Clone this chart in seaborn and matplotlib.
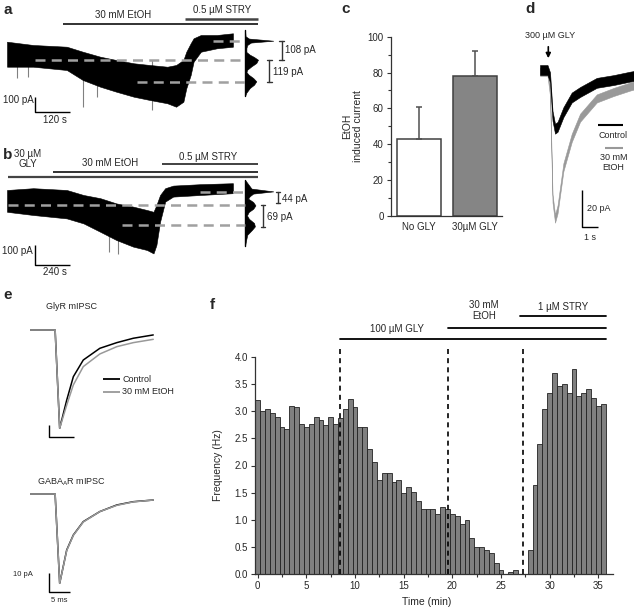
import numpy as np
import pandas as pd
import matplotlib
matplotlib.use('Agg')
import matplotlib.pyplot as plt
from matplotlib.ticker import MultipleLocator, FormatStrFormatter
import seaborn as sns

# ---- a: holding current, 30 mM EtOH then 0.5 uM STRY (envelope of the trace) ----
a_time = [0, 90, 205, 260, 320, 375, 435, 490, 550, 580, 605, 615, 630, 640, 665, 720, 775]  # s
a_upper = [128, 105, 93, 58, 23, 0, -23, -35, -47, -35, 0, 58, 117, 152, 175, 175, 187]     # pA
a_lower = [-47, -47, -70, -140, -187, -222, -257, -280, -303, -327, -292, -198, -105, -12, 58, 82, 93]
a_spike_time = [35, 73, 262, 308, 497]
a_spike_amp = [-128, -117, -327, -257, -350]
a_levels = [135, 0, -156]  # STRY, control, EtOH
a_hist_level = [212, 166, 150, 135, 122, 105, 84, 56, 37, 21, 2, -21, -44, -68, -84,
                -103, -126, -149, -173, -196, -231, -254]
a_hist_count = [0, 0.02, 0.14, 1.0, 0.21, 0.08, 0.05, 0.05, 0.17, 0.32, 0.46, 0.4, 0.23,
                0.08, 0.05, 0.13, 0.29, 0.4, 0.32, 0.17, 0.04, 0]

# ---- b: same with 30 uM GLY in the bath ----
b_time = [0, 180, 410, 525, 640, 750, 865, 960, 1005, 1025, 1050, 1085, 1140, 1325, 1550]
b_upper = [75, 84, 75, 50, 34, 8, -8, -25, -34, 0, 50, 84, 97, 104, 109]
b_lower = [-34, -50, -67, -92, -134, -175, -208, -225, -242, -200, -84, 17, 42, 50, 59]
b_spike_time = [700, 760]
b_spike_amp = [-235, -245]
b_levels = [67, 0, -100]
b_hist_level = [126, 82, 68, 57, 44, 32, 15, -2, -19, -35, -52, -69, -90, -107, -124,
                -149, -182, -207]
b_hist_count = [0, 0.23, 1.0, 0.29, 0.17, 0.11, 0.29, 0.37, 0.29, 0.13, 0.07, 0.14, 0.32,
                0.35, 0.25, 0.08, 0.03, 0]

# ---- c: EtOH induced current ----
c_groups = ['No GLY', '30µM GLY']
c_mean = [43, 78]
c_sem = [18, 14]

# ---- d: 300 uM GLY puff ----
d_time = [0, 0.45, 0.6, 0.75, 0.9, 1.05, 1.4, 1.9, 2.4, 3.4, 4.4, 5.4, 5.6]
d_control = [0, 0, -4, -25, -32, -31, -23, -15, -12, -7, -5.5, -3.6, -3.3]
d_etoh = [-1, -1, -12, -70, -81, -76, -53, -37, -26, -15.5, -12, -9, -8.5]

# ---- e: averaged mIPSCs ----
e_time = [0, 5.9, 7.0, 8.7, 10.3, 12.7, 16.7, 20.8, 24.8, 29.6]  # ms
gly_control = [0, 0, -53.7, -38.3, -25.5, -16.4, -10, -6.9, -4.5, -2.7]
gly_etoh = [0, 0, -53.7, -41, -30, -20, -13.1, -9.1, -6.9, -5.1]
gaba_control = [0, 0, -48.8, -30.6, -22.4, -15.1, -9.6, -6.0, -4.2, -3.3]
gaba_etoh = [0, 0, -48.8, -30.9, -22.6, -15.3, -9.6, -6.2, -4.3, -3.3]

# ---- f: mIPSC frequency in 30 s bins ----
f_time = np.arange(0, 36, 0.5)
f_freq = [3.2, 3.0, 3.04, 2.97, 2.9, 2.7, 2.67, 3.1, 3.07, 2.77,
          2.7, 2.77, 2.9, 2.83, 2.74, 2.9, 2.77, 2.87, 3.04, 3.23,
          3.07, 2.7, 2.7, 2.3, 2.07, 1.73, 1.87, 1.87, 1.7, 1.73,
          1.5, 1.6, 1.51, 1.34, 1.2, 1.2, 1.2, 1.1, 1.23, 1.2,
          1.1, 1.07, 0.93, 1.0, 0.67, 0.5, 0.5, 0.44, 0.4, 0.2,
          0.07, 0, 0.04, 0.07, 0, 0, 0.44, 1.64, 2.4, 3.04,
          3.34, 3.7, 3.47, 3.5, 3.34, 3.77, 3.27, 3.34, 3.4, 3.24, 3.1, 3.13]
f_events = [8.5, 19.6, 27.3]
f_treat_start = [8.5, 19.6, 27.0]
f_treat_y = [4.33, 4.53, 4.75]

sns.set_style('ticks')
plt.rcParams['font.family'] = ['Liberation Sans', 'DejaVu Sans']
plt.rcParams['mathtext.default'] = 'regular'
plt.rcParams['font.size'] = 7

W, H = 634, 615
fig = plt.figure(figsize=(W / 100, H / 100), dpi=100)
DARK = '#333333'
LGRAY = '#a0a0a0'


def box_axes(x0, y0, x1, y1):
    return fig.add_axes([x0 / W, 1 - y1 / H, (x1 - x0) / W, (y1 - y0) / H])


def trace_axes(box, origin, scale):
    # axes whose data units line up with the reference pixels
    ax = box_axes(*box)
    x0, y0, x1, y1 = box
    ox, oy = origin
    sx, sy = scale
    ax.set_xlim((x0 - ox) * sx, (x1 - ox) * sx)
    ax.set_ylim((oy - y1) * sy, (oy - y0) * sy)
    ax.axis('off')
    return ax, (lambda px, py: ((px - ox) * sx, (oy - py) * sy))


def bracket(ax, x, y0, y1, cap):
    ax.plot([x, x], [y0, y1], color=DARK, lw=1)
    ax.plot([x - cap, x + cap], [y0, y0], color=DARK, lw=1)
    ax.plot([x - cap, x + cap], [y1, y1], color=DARK, lw=1)


def scalebar(ax, x, y, dx, dy):
    ax.plot([x, x, x + dx], [y + dy, y, y], color='black', lw=1, solid_capstyle='butt')


def level_panel(ax, to, time, lower, upper, spk_t, spk_a, levels, starts,
                hist_level, hist_count, hist_px, peak_px, xs):
    ax.vlines(spk_t, spk_a, 0, color='#808080', lw=0.8, zorder=1)
    ax.fill_between(time, lower, upper, color='black', lw=0.4, zorder=2)
    th = to(hist_px, 0)[0]
    for lev, px0 in zip(levels, starts):
        ax.plot([to(px0, 0)[0], th], [lev, lev], color=LGRAY, lw=1.8,
                dashes=(4, 2.5), zorder=3)
    ax.fill_betweenx(hist_level, th, th + np.array(hist_count) * peak_px * xs,
                     color='black', lw=0.4)
    ax.plot([th, th], [min(hist_level), max(hist_level)], color='black', lw=1)


# ---------------- panel a ----------------
ax_a, to_a = trace_axes((0, 0, 320, 130), (7, 60), (3.43, 7.0))
level_panel(ax_a, to_a, a_time, a_lower, a_upper, a_spike_time, a_spike_amp,
            a_levels, [213, 35, 136.7], a_hist_level, a_hist_count, 245, 28.3, 3.43)
bracket(ax_a, to_a(281.7, 0)[0], a_levels[0], a_levels[1], 8)
bracket(ax_a, to_a(269.3, 0)[0], a_levels[1], a_levels[2], 8)
sx, sy = to_a(35, 111.7)
scalebar(ax_a, sx, sy, 120, 100)

# ---------------- panel b ----------------
ax_b, to_b = trace_axes((0, 140, 320, 285), (7, 205), (6.86, 5.0))
level_panel(ax_b, to_b, b_time, b_lower, b_upper, b_spike_time, b_spike_amp,
            b_levels, [200, 8.3, 121.7], b_hist_level, b_hist_count, 245, 28.3, 6.86)
bracket(ax_b, to_b(278.3, 0)[0], b_levels[0], b_levels[1] + 10, 15)
bracket(ax_b, to_b(263.3, 0)[0], b_levels[1], b_levels[2] - 10, 15)
sx, sy = to_b(35, 265)
scalebar(ax_b, sx, sy, 240, 100)

# ---------------- panel c ----------------
ax_c = box_axes(390.7, 36.7, 501.7, 216)
sns.barplot(x=c_groups, y=c_mean, hue=c_groups, palette=['white', '#858585'],
            legend=False, width=0.79, edgecolor='#404040', linewidth=1.1,
            errorbar=None, ax=ax_c)
ax_c.errorbar([0, 1], c_mean, yerr=[[0, 0], c_sem], fmt='none', ecolor='#505050',
              elinewidth=1.1, capsize=2.2, capthick=1.1)
ax_c.set_xlim(-0.508, 1.485)
ax_c.set_ylim(0, 100)
ax_c.yaxis.set_major_locator(MultipleLocator(20))
ax_c.yaxis.set_minor_locator(MultipleLocator(10))
ax_c.tick_params(axis='y', which='major', length=3, width=0.8, color=DARK, labelsize=7, pad=2)
ax_c.tick_params(axis='y', which='minor', length=2, width=0.8, color=DARK)
ax_c.tick_params(axis='x', length=0, labelsize=7, pad=4)
ax_c.set_ylabel('EtOH\ninduced current', fontsize=7.5, linespacing=1.1)
ax_c.yaxis.set_label_coords(-0.25, 0.5)
sns.despine(ax=ax_c)
for s in ax_c.spines.values():
    s.set_color(DARK)
    s.set_linewidth(0.9)

# ---------------- panel d ----------------
ax_d, to_d = trace_axes((530, 40, 634, 245), (540, 70), (1 / 16.7, 0.545))
ax_d.fill_between(d_time, np.array(d_etoh) - 2.2, np.array(d_etoh) + 2.2, color='#999999', lw=0.4)
ax_d.fill_between(d_time, np.array(d_control) - 2.7, np.array(d_control) + 2.7, color='black', lw=0.4)
sx, sy = to_d(581.7, 226.7)
scalebar(ax_d, sx, sy, 1, 20)

# ---------------- panel e ----------------
ax_e1, to_e1 = trace_axes((0, 315, 200, 445), (30.7, 330), (1 / 4.14, 1 / 1.83))
ax_e1.plot(e_time, gly_control, color='black', lw=1.1)
ax_e1.plot(e_time, gly_etoh, color='#999999', lw=1.1)
sx, sy = to_e1(49.3, 436.7)
scalebar(ax_e1, sx, sy, 6, 6.4)

ax_e2, to_e2 = trace_axes((0, 485, 200, 615), (30.7, 494), (1 / 4.14, 1 / 1.83))
ax_e2.plot(e_time, gaba_control, color='black', lw=1.1)
ax_e2.plot(e_time, gaba_etoh, color='#999999', lw=1.1)
sx, sy = to_e2(49.3, 591.7)
scalebar(ax_e2, sx, sy, 5, 10)

# ---------------- panel f ----------------
ax_f = box_axes(254.8, 356.7, 612.9, 574.3)
df_f = pd.DataFrame({'time': f_time, 'freq': f_freq})
sns.histplot(data=df_f, x='time', weights='freq', binwidth=0.5, binrange=(-0.25, 35.75),
             color='#808080', edgecolor='#222222', alpha=1, ax=ax_f)
for p in ax_f.patches:
    p.set_linewidth(0.6)
ax_f.set_xlim(-0.3, 36.5)
ax_f.set_ylim(0, 4.0)
ax_f.xaxis.set_major_locator(MultipleLocator(5))
ax_f.xaxis.set_minor_locator(MultipleLocator(2.5))
ax_f.yaxis.set_major_locator(MultipleLocator(0.5))
ax_f.yaxis.set_major_formatter(FormatStrFormatter('%.1f'))
ax_f.tick_params(which='major', length=3, width=0.8, color=DARK, labelsize=7, pad=2)
ax_f.tick_params(which='minor', length=2, width=0.8, color=DARK)
ax_f.set_xlabel('Time (min)', fontsize=7.5)
ax_f.set_ylabel('Frequency (Hz)', fontsize=7.5)
ax_f.xaxis.set_label_coords(0.48, -0.105)
ax_f.yaxis.set_label_coords(-0.09, 0.5)
sns.despine(ax=ax_f)
for s in ax_f.spines.values():
    s.set_color(DARK)
    s.set_linewidth(0.9)
ax_f.vlines(f_events, 0, 4.18, colors='black', lw=1.2, linestyles=(0, (3, 2.5)), clip_on=False)
for t0, yy in zip(f_treat_start, f_treat_y):
    ax_f.plot([t0, 35.8], [yy, yy], color='black', lw=1.3, clip_on=False)

# ---------------- labels on top ----------------
ov = fig.add_axes([0, 0, 1, 1], zorder=10)
ov.set_xlim(0, W)
ov.set_ylim(H, 0)
ov.axis('off')


def txt(x, y, s, ha='center', size=7, **kw):
    ov.text(x, y, s, ha=ha, va='center', fontsize=size, **kw)


def seg(x0, x1, y, color='#333333', lw=1.3):
    ov.plot([x0, x1], [y, y], color=color, lw=lw, solid_capstyle='butt')


for lab, x, y in [('a', 3, 10), ('b', 3, 155), ('c', 341.7, 9), ('d', 525, 9),
                  ('e', 3, 295), ('f', 210, 305)]:
    txt(x, y, lab, ha='left', size=11, fontweight='bold')

# a
txt(123, 15, '30 mM EtOH')
txt(221.7, 10, '0.5 µM STRY')
seg(63.3, 258.3, 24.3, color='#222222')
seg(185, 258.3, 19.3, color='#444444', lw=1.8)
txt(285, 50.3, '108 pA', ha='left')
txt(272.7, 71.7, '119 pA', ha='left')
txt(33.3, 100, '100 pA', ha='right')
txt(55, 120, '120 s')

# b
txt(28, 159, '30 µM\nGLY', linespacing=1.0)
txt(110, 163.3, '30 mM EtOH')
txt(208.3, 156.7, '0.5 µM STRY')
seg(8.3, 258.3, 177.3, color='#444444', lw=1.6)
seg(53.3, 258.3, 171.7, color='#222222')
seg(161.7, 258.3, 164.3, color='#333333')
txt(281.7, 199, '44 pA', ha='left')
txt(266.7, 216.7, '69 pA', ha='left')
txt(33, 251, '100 pA', ha='right')
txt(55, 272, '240 s')

# d
txt(550, 35, '300 µM GLY', size=6.5)
ov.annotate('', xy=(548.3, 61), xytext=(548.3, 44),
            arrowprops=dict(arrowstyle='-|>', color='black', lw=1.2, mutation_scale=7))
seg(598.3, 622.7, 125, color='black', lw=1.5)
txt(613.3, 135, 'Control', size=6.5)
seg(605, 622.7, 147.7, color='#999999', lw=1.5)
txt(613.3, 162.5, '30 mM\nEtOH', size=6.5, linespacing=1.1)
txt(586.7, 208.3, '20 pA', ha='left', size=6.5)
txt(590, 237.3, '1 s', size=6.5)

# e
txt(71.7, 306.7, 'GlyR mIPSC', size=6.5)
txt(71.7, 481.7, r'GABA$_A$R mIPSC', size=6.5)
seg(103.3, 120, 379.3, color='black', lw=1.3)
txt(122.3, 379.3, 'Control', ha='left', size=6.5)
seg(103.3, 120, 391.7, color='#999999', lw=1.3)
txt(122.3, 391.7, '30 mM EtOH', ha='left', size=6.5)
txt(33, 575, '10 pA', ha='right', size=5.5)
txt(59.3, 600, '5 ms', size=5.5)

# f
txt(396.7, 329.3, '100 µM GLY')
txt(484, 310.7, '30 mM\nEtOH', linespacing=1.1)
txt(563.3, 306.7, '1 µM STRY')

fig.savefig('out.png', dpi=100)
